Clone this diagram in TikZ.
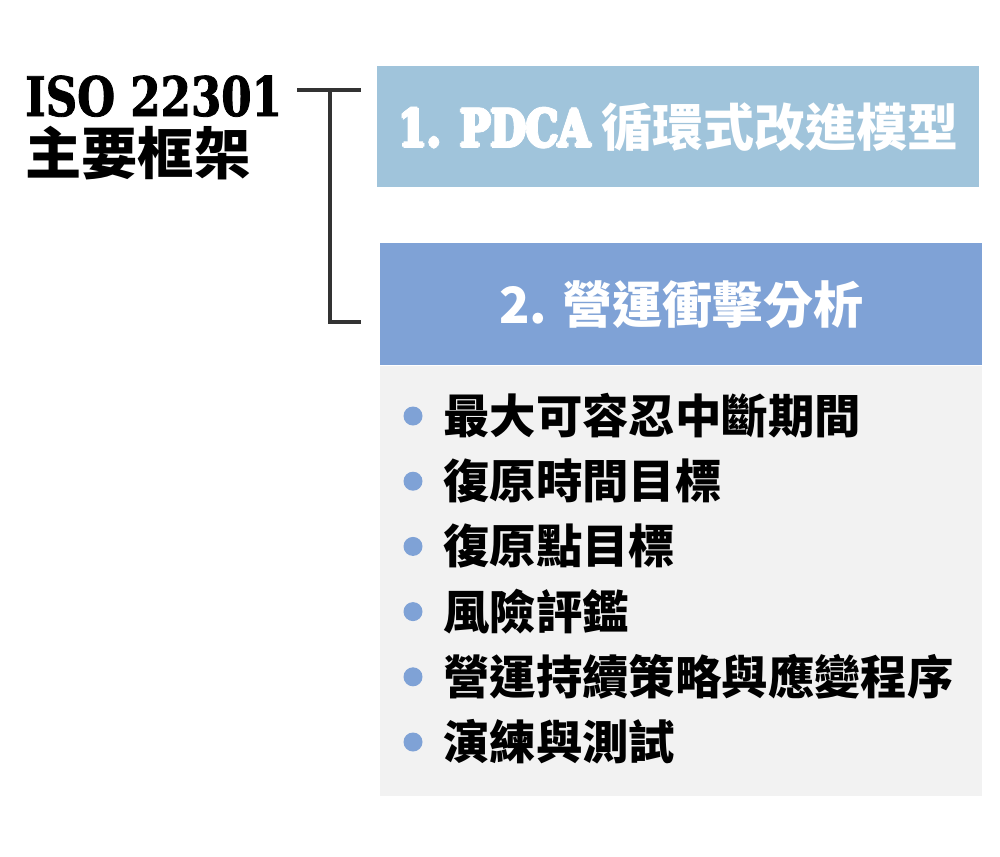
\documentclass[tikz,border=0pt]{standalone}
\usepackage{fontspec}
\setmainfont{Noto Sans CJK TC}
\newfontfamily\slab{DejaVu Serif Bold}[FakeStretch=0.8,FakeBold=1.5]
\newcommand\heavytext[1]{\leavevmode\rlap{\kern-0.8pt#1}\rlap{\kern0.8pt#1}\rlap{\raise0.8pt\hbox{#1}}\rlap{\lower0.8pt\hbox{#1}}#1}
\definecolor{pdcablue}{HTML}{A0C4DB}
\definecolor{biablue}{HTML}{7FA2D6}
\definecolor{bodygray}{HTML}{F2F2F2}
\definecolor{linegray}{HTML}{333333}
\tikzset{
  box/.style={inner sep=0pt, minimum width=12.04cm, anchor=north west},
  boxtitle/.style={text=white, font=\bfseries\fontsize{29}{32}\selectfont},
  bracket/.style={draw=linegray, line width=2.1pt},
  itemtext/.style={anchor=west, inner sep=0pt, font=\bfseries\fontsize{26.4}{30}\selectfont},
}
\begin{document}
\begin{tikzpicture}[x=0.02cm,y=-0.02cm]
\useasboundingbox (0,0) rectangle (1000,856);
% left label
\node[anchor=base west, inner sep=0pt, font=\slab\fontsize{31}{34}\selectfont] (iso) at (25,116) {ISO 22301};
\node[anchor=base west, inner sep=0pt, font=\bfseries\fontsize{32}{36}\selectfont] (frame) at (25,174) {主要框架};
% boxes
\node[box, fill=pdcablue, minimum height=2.42cm] (pdca) at (377,66) {};
\node[boxtitle] at (pdca.center) {{\mdseries\slab\heavytext{1. PDCA}} 循環式改進模型};
\node[box, fill=biablue, minimum height=2.44cm] (bia) at (380,243) {};
\node[boxtitle, font=\bfseries\fontsize{28.5}{32}\selectfont] at (bia.center) {2. 營運衝擊分析};
\node[box, fill=bodygray, minimum height=8.6cm] (body) at (bia.south west) {};
% bracket
\coordinate (root) at (297,90);
\coordinate (fork) at (330,90);
\coordinate (end1) at (361,90);
\coordinate (end2) at (361,322);
\draw[bracket] (root) -- (end1);
\draw[bracket] (fork) |- (end2);
% list
\foreach \txt [count=\i from 0] in {最大可容忍中斷期間,復原時間目標,復原點目標,風險評鑑,營運持續策略與應變程序,演練與測試}{
  \fill[biablue] (413,416+65.2*\i) circle (9.5);
  \node[itemtext] (item\i) at (443,416+65.2*\i) {\txt};
}
\end{tikzpicture}
\end{document}
